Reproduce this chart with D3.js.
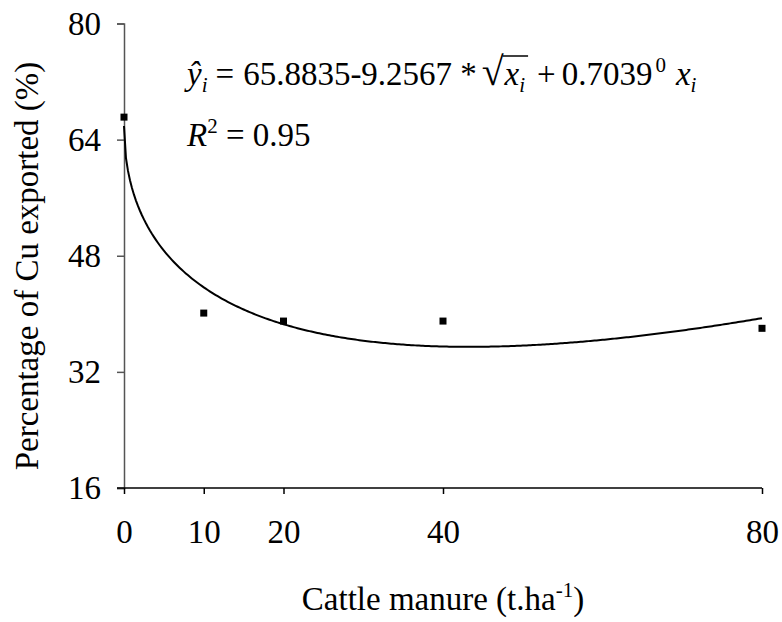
<!DOCTYPE html>
<html>
<head>
<meta charset="utf-8">
<script src="https://cdn.jsdelivr.net/npm/d3@7"></script>
<style>
  body { margin: 0; background: #fff; }
  svg text { font-family: "Liberation Serif", "Times New Roman", serif; fill: #000; }
</style>
</head>
<body>
<div id="chart"></div>
<script>
// data
const doses = [0, 10, 20, 40, 80]
const cuExported = [67.1, 40.1, 39.0, 39.0, 38.0]
const xTicks = [0, 10, 20, 40, 80]
const yTicks = [16, 32, 48, 64, 80]
const coef = { a: 65.8835, b: -9.2567, c: 0.7039 }

const width = 782
const height = 622
const fontSize = 33
const subSize = 21

const svg = d3.select("#chart").append("svg")
  .attr("width", width)
  .attr("height", height)

const x = d3.scaleLinear().domain([0, 80]).range([124, 762])
const y = d3.scaleLinear().domain([16, 80]).range([488, 23.5])

// y axis
const yAxis = svg.append("g")
  .attr("transform", `translate(${x(0)},0)`)
  .call(d3.axisLeft(y).tickValues(yTicks).tickSize(7).tickPadding(16).tickFormat(d3.format("d")))
yAxis.attr("font-family", null).attr("font-size", fontSize)
yAxis.select(".domain").attr("stroke", "#555").attr("stroke-width", 1.5)
yAxis.selectAll(".tick line").attr("stroke", "#555").attr("stroke-width", 1.5)

// x axis
const xAxis = svg.append("g")
  .attr("transform", `translate(0,${y(16)})`)
  .call(d3.axisBottom(x).tickValues(xTicks).tickSize(6).tickPadding(26).tickFormat(d3.format("d")))
xAxis.attr("font-family", null).attr("font-size", fontSize)
xAxis.select(".domain").attr("stroke", "#000").attr("stroke-width", 1.5)
  .attr("d", `M${x(0) - 7},0H${x(80)}`)
xAxis.selectAll(".tick line").attr("stroke", "#000").attr("stroke-width", 1.5)

// fitted curve
const fit = v => coef.a + coef.b * Math.sqrt(v) + coef.c * v
const curvePts = d3.range(0, 80.01, 0.25).map(v => [v, fit(v)])
svg.append("path")
  .datum(curvePts)
  .attr("fill", "none")
  .attr("stroke", "#000")
  .attr("stroke-width", 2)
  .attr("d", d3.line().x(d => x(d[0])).y(d => y(d[1])))

// observed points
const sq = 7
svg.append("g").selectAll("rect")
  .data(doses)
  .join("rect")
    .attr("x", d => x(d) - sq / 2)
    .attr("y", (d, i) => y(cuExported[i]) - sq / 2)
    .attr("width", sq)
    .attr("height", sq)
    .attr("fill", "#000")

// axis titles
const xTitle = svg.append("text")
  .attr("x", x(40))
  .attr("y", 610)
  .attr("text-anchor", "middle")
  .attr("font-size", fontSize)
xTitle.append("tspan").text("Cattle manure (t.ha")
xTitle.append("tspan").attr("dy", -13).attr("font-size", subSize).text("-1")
xTitle.append("tspan").attr("dy", 13).text(")")

svg.append("text")
  .attr("transform", "translate(38,266) rotate(-90)")
  .attr("text-anchor", "middle")
  .attr("font-size", fontSize)
  .text("Percentage of Cu exported (%)")

// equation, laid out piece by piece like an equation editor
const eqSize = 33
const eqBase = 85
const eqParts = [
  { t: "ŷ", gap: 0, it: true },
  { t: "i", gap: 0, it: true, dy: 7, small: true },
  { t: "=", gap: 8 },
  { t: "65.8835-9.2567", gap: 9 },
  { t: "*", gap: 8 },
  { t: "√", gap: 5, big: true },
  { t: "x", gap: 1, it: true },
  { t: "i", gap: 0, it: true, dy: 7, small: true },
  { t: "+", gap: 12 },
  { t: "0.7039", gap: 6 },
  { t: "0", gap: 3, dy: -13, small: true },
  { t: "x", gap: 10, it: true },
  { t: "i", gap: 0, it: true, dy: 7, small: true }
]
const eq = svg.append("g")
let cursor = 187
const placed = eqParts.map(d => {
  const t = eq.append("text")
    .attr("y", eqBase + (d.dy || 0))
    .attr("font-size", d.small ? subSize : d.big ? 40 : eqSize)
    .attr("font-style", d.it ? "italic" : null)
    .text(d.t)
  cursor += d.gap
  t.attr("x", cursor)
  const w = t.node().getComputedTextLength()
  const box = { x0: cursor, x1: cursor + w }
  cursor += w
  return box
})

// bar over the radicand
eq.append("line")
  .attr("x1", placed[5].x1 - 1).attr("x2", placed[7].x1 + 3)
  .attr("y1", eqBase - 29).attr("y2", eqBase - 29)
  .attr("stroke", "#000").attr("stroke-width", 1.5)

const line2 = svg.append("text").attr("x", 187).attr("y", 146).attr("font-size", fontSize)
line2.append("tspan").attr("font-style", "italic").text("R")
line2.append("tspan").attr("font-size", subSize).attr("dy", -13).text("2")
line2.append("tspan").attr("dy", 13).text(" = 0.95")
</script>
</body>
</html>
